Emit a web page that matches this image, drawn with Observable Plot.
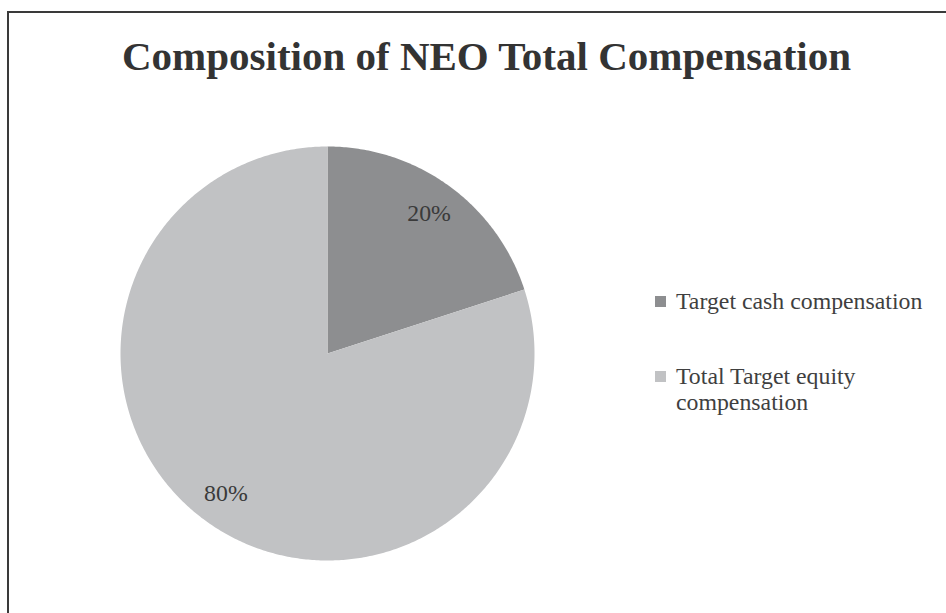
<!DOCTYPE html>
<html>
<head>
<meta charset="utf-8">
<script src="https://cdn.jsdelivr.net/npm/d3@7"></script>
<script src="https://cdn.jsdelivr.net/npm/@observablehq/plot@0.6"></script>
<style>
  html, body { margin: 0; padding: 0; background: #fff; }
  #wrap { position: relative; width: 946px; height: 613px; overflow: hidden; font-family: "Liberation Serif", "Times New Roman", serif; }
  #frame { position: absolute; left: 7px; top: 11px; width: 1000px; height: 700px; border-left: 2px solid #3a3a3a; border-top: 2px solid #3a3a3a; }
  #title { position: absolute; left: 0; width: 973px; top: 36px; text-align: center; font-size: 41px; line-height: 40px; font-weight: bold; color: #333; white-space: nowrap; }
  #chart { position: absolute; left: 0; top: 0; }
  .leg { position: absolute; left: 655px; font-size: 23.8px; line-height: 26px; color: #3f3f3f; }
  .leg .sw { position: absolute; left: 0; top: 8px; width: 11px; height: 11px; }
  .leg .lab { position: absolute; left: 21px; width: 260px; }
</style>
</head>
<body>
<div id="wrap">
  <div id="frame"></div>
  <div id="chart"></div>
  <div id="title"></div>
</div>
<script>
const title = "Composition of NEO Total Compensation";
const categories = ["Target cash compensation", "Total Target equity compensation"];
const values = [20, 80];
const colors = ["#8d8e90", "#c1c2c4"];
const pctLabels = ["20%", "80%"];

// slice geometry from d3.pie (clockwise from 12 o'clock)
const arcs = d3.pie().sort(null)(values);
const pts = [];
arcs.forEach((a, i) => {
  const cat = categories[i];
  pts.push({cat, x: 0, y: 0});
  const n = Math.max(2, Math.ceil((a.endAngle - a.startAngle) / 0.01));
  for (let k = 0; k <= n; k++) {
    const t = a.startAngle + (a.endAngle - a.startAngle) * k / n;
    pts.push({cat, x: Math.sin(t), y: Math.cos(t)});
  }
  pts.push({cat, x: 0, y: 0});
});
const labelData = arcs.map((a, i) => {
  const m = (a.startAngle + a.endAngle) / 2;
  return {text: pctLabels[i], x: 0.835 * Math.sin(m), y: 0.835 * Math.cos(m)};
});

const plot = Plot.plot({
  width: 946,
  height: 613,
  margin: 0,
  style: {background: "transparent", overflow: "visible"},
  x: {domain: [-1, 1], range: [120, 534], axis: null},
  y: {domain: [-1, 1], range: [560, 146], axis: null},
  color: {domain: categories, range: colors},
  marks: [
    Plot.line(pts, {x: "x", y: "y", z: "cat", fill: "cat", stroke: "none", curve: "linear"}),
    Plot.text(labelData, {x: "x", y: "y", text: "text", fontSize: 23.8, fontFamily: "Liberation Serif", fill: "#3a3a3a"})
  ]
});
document.getElementById("chart").appendChild(plot);
document.getElementById("title").textContent = title;

const legTops = [288, 363];
categories.forEach((c, i) => {
  const d = document.createElement("div");
  d.className = "leg";
  d.style.top = legTops[i] + "px";
  const sw = document.createElement("div");
  sw.className = "sw";
  sw.style.background = colors[i];
  const lab = document.createElement("div");
  lab.className = "lab";
  lab.textContent = c;
  d.appendChild(sw);
  d.appendChild(lab);
  document.getElementById("wrap").appendChild(d);
});
</script>
</body>
</html>
